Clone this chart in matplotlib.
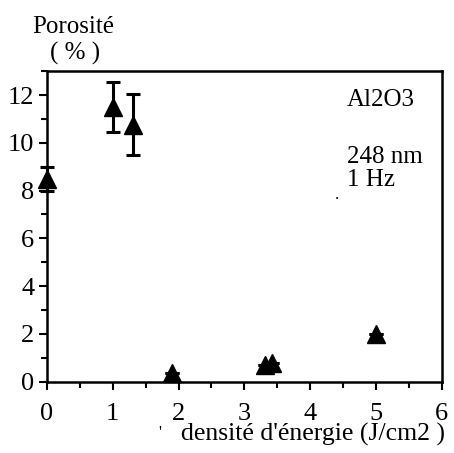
import numpy as np
import matplotlib
matplotlib.use("Agg")
import matplotlib.pyplot as plt
from matplotlib.ticker import MultipleLocator

plt.rcParams['font.family'] = ['Liberation Serif', 'DejaVu Serif']

# data
fluence = [0.0, 1.0, 1.3, 1.9, 3.32, 3.42, 5.0]
porosity = [8.5, 11.5, 10.75, 0.35, 0.7, 0.8, 2.0]
err = [0.5, 1.05, 1.28, 0.0, 0.0, 0.0, 0.0]

fig = plt.figure(figsize=(4.54, 4.53), dpi=100)
ax = fig.add_axes([0.1035, 0.1574, 0.8695, 0.6856])

ax.errorbar(fluence, porosity, yerr=err, fmt='none', ecolor='black',
            elinewidth=2.2, capsize=5, capthick=2.2, clip_on=False)
ax.plot(fluence, porosity, '^', color='black', markersize=13, clip_on=False, zorder=3)

ax.set_xlim(0, 6)
ax.set_ylim(0, 13)
ax.set_xticks(np.arange(0, 7, 1))
ax.set_yticks(np.arange(0, 13, 2))
ax.xaxis.set_minor_locator(MultipleLocator(0.5))
ax.yaxis.set_minor_locator(MultipleLocator(1))
ax.tick_params(which='major', direction='out', length=6, width=1.5, labelsize=19)
ax.tick_params(axis='y', which='major', pad=3)
ax.tick_params(axis='x', which='major', pad=9)
ax.tick_params(which='minor', direction='out', length=4, width=1.5)
for s in ax.spines.values():
    s.set_linewidth(1.8)

fig.text(0.162, 0.941, "Porosité", fontsize=18, ha='center', va='center')
fig.text(0.165, 0.883, "( % )", fontsize=18, ha='center', va='center')
ax.text(0.759, 0.907, "Al2O3", fontsize=18, transform=ax.transAxes, va='center')
ax.text(0.759, 0.724, "248 nm", fontsize=18, transform=ax.transAxes, va='center')
ax.text(0.759, 0.649, "1 Hz", fontsize=18, transform=ax.transAxes, va='center')
ax.text(0.73, 0.60, ".", fontsize=12, transform=ax.transAxes, va='center')
fig.text(0.69, 0.04, "densité d'énergie (J/cm2 )", fontsize=18.5, ha='center', va='center')
fig.text(0.352, 0.045, "'", fontsize=12, ha='center', va='center')

fig.savefig("out.png", dpi=100)
